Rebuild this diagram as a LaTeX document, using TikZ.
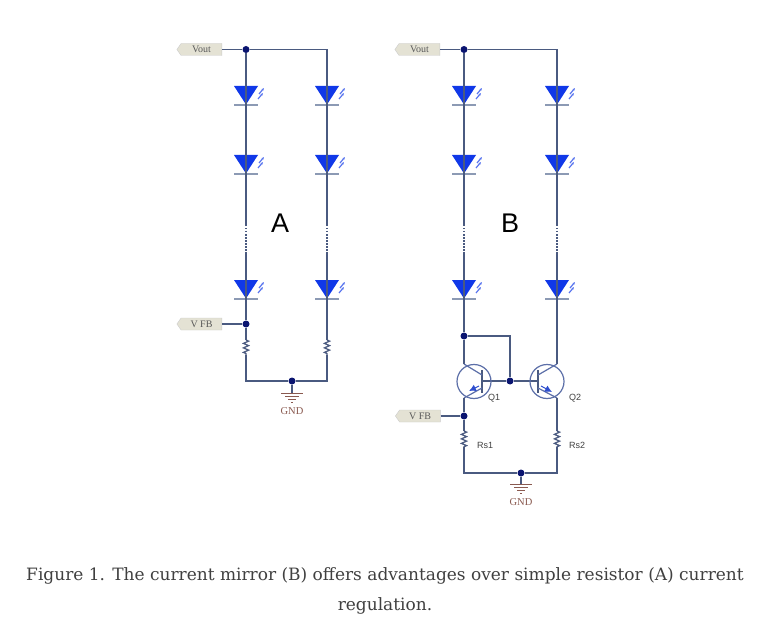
\documentclass[tikz,border=0pt]{standalone}
\usepackage{fontspec}
\setmainfont{DejaVu Serif}
\setsansfont{Liberation Sans}
\newfontfamily\tagfont{Liberation Serif}
\usetikzlibrary{arrows.meta, positioning, decorations.pathmorphing, shapes.symbols}

\definecolor{ledblue}{HTML}{1038E8}
\definecolor{wire}{HTML}{4A5A80}
\definecolor{junction}{HTML}{0A1470}
\definecolor{symline}{HTML}{5C6FA8}
\definecolor{ledbar}{HTML}{8C9AB4}
\definecolor{tagfill}{HTML}{E4E2D4}
\definecolor{gndred}{HTML}{8A5A50}

\tikzset{
  led/.pic = {
    \fill[ledblue] (-12,-9) -- (12,-9) -- (0,9.5) -- cycle;
    \draw[ledbar, line width=1.5pt] (-12,10) -- (12,10);
    \draw[ledblue!70!white, line width=1.2pt, -{Latex[length=2.5pt,width=2.5pt]}] (13,-1) -- (18,-7);
    \draw[ledblue!70!white, line width=1.2pt, -{Latex[length=2.5pt,width=2.5pt]}] (12,4) -- (17,-2);
  },
  gnd/.pic = {
    \draw[gndred, line width=1pt] (-11,0) -- (11,0);
    \draw[gndred, line width=1pt] (-7,3) -- (7,3);
    \draw[gndred, line width=1pt] (-4,6) -- (4,6);
    \draw[gndred, line width=1pt] (-1,9) -- (1,9);
  },
  npn/.pic = {
    \draw[symline, line width=1.2pt] (0,0) circle (17);
  }
}

\begin{document}
\begin{tikzpicture}[
    x=1pt, y=-1pt,
    wirepath/.style = {wire, line width=1.4pt},
    dotted wire/.style = {wire, line width=1.3pt, dash pattern=on 1.5pt off 1.5pt},
    dot/.style = {circle, fill=junction, inner sep=0pt, minimum size=7pt},
    porttag/.style = {signal, signal to=west, signal pointer angle=110, draw=gray!40, fill=tagfill, inner sep=0pt,
      minimum width=45pt, minimum height=12pt, font=\tagfont\fontsize{10}{10}\selectfont, text=black!65},
    gndlabel/.style = {font=\tagfont\fontsize{10.5}{10.5}\selectfont, text=gndred},
    partlabel/.style = {font=\sffamily\fontsize{9}{9}\selectfont, text=black!75},
    biglabel/.style = {font=\sffamily\fontsize{27}{27}\selectfont, text=black},
    resistor/.style = {wire, line width=1.3pt, decorate, decoration={zigzag, amplitude=2.5pt, segment length=4.5pt}}
  ]
  \fill[white] (0,0) rectangle (762,636);

  % Circuit A
  \node[porttag] (voutA) at (201.5,49.5) {Vout};
  \node[dot] (topA) at (246,49.5) {};
  \coordinate (cornerA) at (327,49.5);
  \node[porttag, anchor=center] (fbA) at (201.5,324) {V FB};
  \node[dot] (sumA) at (246,324) {};
  \coordinate (leftA) at (246,381);
  \coordinate (rightA) at (327,381);
  \node[dot] (gndA) at (292,381) {};
  \coordinate (barA) at (292,393);
  \node[gndlabel] (gndtextA) at (292,411) {GND};
  \node[biglabel] (labelA) at (280,223) {A};

  \foreach \col/\xx in {l/246, r/327} {
    \pic at (\xx,95) {led};
    \pic at (\xx,164) {led};
    \pic at (\xx,289) {led};
    \coordinate (dotA\col) at (\xx,225);
    \coordinate (dotendA\col) at (\xx,252);
    \coordinate (resA\col) at (\xx,340);
    \coordinate (resendA\col) at (\xx,355);
  }

  \draw[wirepath] (voutA.east) -- (topA) -- (cornerA) -- (dotAr);
  \draw[wirepath] (topA) -- (dotAl);
  \draw[dotted wire] (dotAl) -- (dotendAl);
  \draw[dotted wire] (dotAr) -- (dotendAr);
  \draw[wirepath] (dotendAl) -- (sumA) -- (resAl);
  \draw[wirepath] (fbA.east) -- (sumA);
  \draw[wirepath] (dotendAr) -- (resAr);
  \draw[resistor] (resAl) -- (resendAl);
  \draw[resistor] (resAr) -- (resendAr);
  \draw[wirepath] (resendAl) -- (leftA) -- (gndA) -- (rightA) -- (resendAr);
  \draw[wirepath] (gndA) -- (barA);
  \pic at (292,393) {gnd};

  % Circuit B
  \node[porttag] (voutB) at (419.5,49.5) {Vout};
  \node[dot] (topB) at (464,49.5) {};
  \coordinate (cornerB) at (557,49.5);
  \node[dot] (mirrorB) at (464,336) {};
  \coordinate (mirrorcorner) at (510,336);
  \node[dot] (baseB) at (510,381) {};
  \coordinate (barQa) at (482,381);
  \coordinate (barQb) at (538,381);
  \coordinate (colQa) at (464,364);
  \coordinate (emiQa) at (464,398);
  \coordinate (colQb) at (557,364);
  \coordinate (emiQb) at (557,398);
  \node[porttag] (fbB) at (420,416) {V FB};
  \node[dot] (sumB) at (464,416) {};
  \coordinate (leftB) at (464,473);
  \coordinate (rightB) at (557,473);
  \node[dot] (gndB) at (521,473) {};
  \coordinate (barB) at (521,484);
  \node[gndlabel] (gndtextB) at (521,502) {GND};
  \node[biglabel] (labelB) at (510,223) {B};
  \node[partlabel] (qa) at (494,398.5) {Q1};
  \node[partlabel] (qb) at (575,398.5) {Q2};
  \node[partlabel] (rsa) at (485,445) {Rs1};
  \node[partlabel] (rsb) at (577,445) {Rs2};

  \foreach \col/\xx in {l/464, r/557} {
    \pic at (\xx,95) {led};
    \pic at (\xx,164) {led};
    \pic at (\xx,289) {led};
    \coordinate (dotB\col) at (\xx,225);
    \coordinate (dotendB\col) at (\xx,252);
    \coordinate (resB\col) at (\xx,431);
    \coordinate (resendB\col) at (\xx,447);
  }

  \draw[wirepath] (voutB.east) -- (topB) -- (cornerB) -- (dotBr);
  \draw[wirepath] (topB) -- (dotBl);
  \draw[dotted wire] (dotBl) -- (dotendBl);
  \draw[dotted wire] (dotBr) -- (dotendBr);
  \draw[wirepath] (dotendBl) -- (mirrorB) -- (colQa);
  \draw[wirepath] (dotendBr) -- (colQb);
  \draw[wirepath] (mirrorB) -- (mirrorcorner) -- (baseB);
  \draw[wirepath] (barQa) -- (baseB) -- (barQb);

  % transistors
  \pic at (474,381.5) {npn};
  \pic at (547,381.5) {npn};
  \draw[wire, line width=1.4pt] (482,370) -- (482,393);
  \draw[wire, line width=1.4pt] (538,370) -- (538,393);
  \draw[symline, line width=1.2pt] (482,375) -- (colQa);
  \draw[symline, line width=1.2pt] (538,375) -- (colQb);
  \draw[symline, line width=1.2pt] (482,388) -- (emiQa);
  \draw[symline, line width=1.2pt] (538,388) -- (emiQb);
  \draw[ledblue!60!symline, line width=1pt, -{Latex[length=7pt,width=7pt]}] (479,386) -- (469,391);
  \draw[ledblue!60!symline, line width=1pt, -{Latex[length=7pt,width=7pt]}] (541,386) -- (552,392);

  \draw[wirepath] (emiQa) -- (sumB) -- (resBl);
  \draw[wirepath] (fbB.east) -- (sumB);
  \draw[wirepath] (emiQb) -- (resBr);
  \draw[resistor] (resBl) -- (resendBl);
  \draw[resistor] (resBr) -- (resendBr);
  \draw[wirepath] (resendBl) -- (leftB) -- (gndB) -- (rightB) -- (resendBr);
  \draw[wirepath] (gndB) -- (barB);
  \pic at (521,484) {gnd};

  % Caption
  \node[font=\fontsize{17}{30}\selectfont, text=black!75, align=center] (caption) at (385,591) {Figure 1. The current mirror (B) offers advantages over simple resistor (A) current\\regulation.};
\end{tikzpicture}
\end{document}
